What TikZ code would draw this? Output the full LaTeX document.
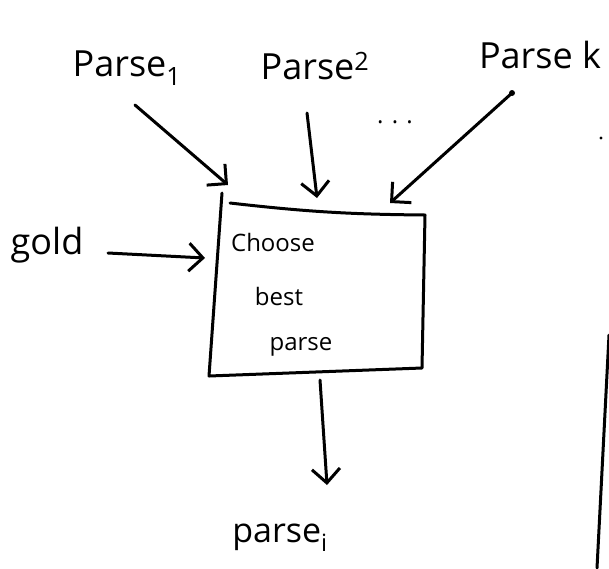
\documentclass[tikz,border=0pt]{standalone}
\usepackage{fontspec}
\setmainfont{Open Sans}
\usetikzlibrary{arrows.meta}
\begin{document}
\begin{tikzpicture}[x=1pt,y=-1pt,
  ink/.style={line width=3pt,line cap=round,line join=round},
  arr/.style={ink,-{Straight Barb[length=14pt,width=28pt,line width=3pt]}},
  lbl/.style={font=\fontsize{36}{38}\selectfont,inner sep=0pt},
  boxtxt/.style={font=\fontsize{24}{26}\selectfont,inner sep=0pt}]
\useasboundingbox (0,0) rectangle (609,568);
% labels
\node[lbl] (p1) at (127,68) {Parse\textsubscript{1}};
\node[lbl] (p2) at (315,66) {Parse\textsuperscript{2}};
\node[lbl] (pk) at (540,55) {Parse k};
\node[lbl] (gold) at (47,245) {gold};
\node[font=\fontsize{34}{36}\selectfont,inner sep=0pt] (out) at (280,538) {parse\textsubscript{i}};
\node[font=\fontsize{24}{24}\selectfont,inner sep=0pt] (dots) at (395,122) {. . .};
\fill (601,138) circle (1.6pt);
% box
\coordinate (tl) at (222,193);
\coordinate (tt) at (230,203);
\coordinate (tr) at (425,215);
\coordinate (br) at (422,368);
\coordinate (bl) at (209,376);
\draw[ink] (tl) -- (bl) -- (br) -- (tr) to[bend left=3] (tt);
\node[boxtxt] (c1) at (273,242) {Choose};
\node[boxtxt] (c2) at (279,296) {best};
\node[boxtxt] (c3) at (301,347) {parse};
% arrow ends
\coordinate (a1s) at (135,105); \coordinate (a1e) at (228,185);
\coordinate (a2s) at (307,113); \coordinate (a2e) at (317,198);
\coordinate (aks) at (512,93);  \coordinate (ake) at (390,203);
\coordinate (ags) at (108,253); \coordinate (age) at (205,258);
\coordinate (aos) at (320,380); \coordinate (aoe) at (327,485);
\draw[arr] (a1s) -- (a1e);
\draw[arr] (a2s) -- (a2e);
\draw[arr] (aks) -- (ake);
\fill (aks) circle (3pt);
\draw[arr] (ags) -- (age);
\draw[arr] (aos) -- (aoe);
% right line
\coordinate (rl1) at (609,335); \coordinate (rl2) at (597,568);
\draw[ink] (rl1) -- (rl2);
\end{tikzpicture}
\end{document}
